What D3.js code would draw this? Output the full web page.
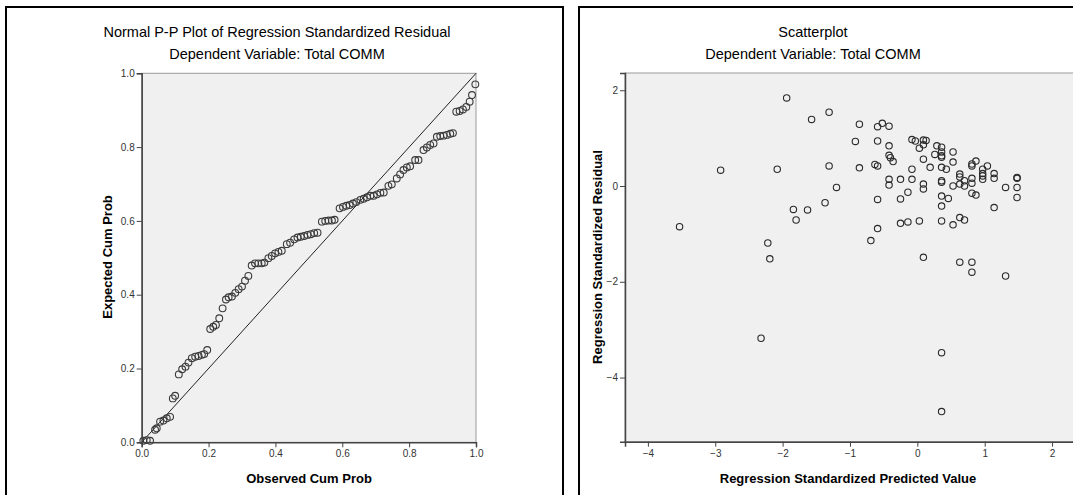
<!DOCTYPE html>
<html><head><meta charset="utf-8">
<script src="https://cdn.jsdelivr.net/npm/d3@7"></script>
<style>body{margin:0;background:#fff}svg{display:block}</style>
</head><body>
<svg id="c" width="1073" height="495"></svg>
<script>
// ---- P-P plot data (observed cum prob, expected cum prob) ----
const ppObserved = [0.005,0.015,0.025,0.04,0.045,0.055,0.065,0.075,0.085,0.093,0.10,0.111,0.121,0.131,0.14,0.15,0.16,0.17,0.18,0.187,0.196,0.205,0.214,0.222,0.232,0.242,0.252,0.26,0.27,0.28,0.29,0.30,0.309,0.319,0.329,0.339,0.349,0.359,0.367,0.379,0.389,0.399,0.409,0.419,0.434,0.444,0.456,0.466,0.476,0.486,0.496,0.506,0.516,0.526,0.539,0.549,0.559,0.569,0.577,0.592,0.602,0.612,0.622,0.632,0.642,0.654,0.664,0.674,0.684,0.694,0.704,0.714,0.724,0.738,0.748,0.763,0.773,0.783,0.793,0.803,0.818,0.828,0.843,0.853,0.863,0.873,0.883,0.893,0.903,0.913,0.923,0.931,0.941,0.951,0.961,0.971,0.981,0.988,0.998];
const ppExpected = [0.004,0.006,0.004,0.034,0.038,0.056,0.059,0.065,0.069,0.119,0.126,0.184,0.198,0.205,0.216,0.228,0.232,0.234,0.237,0.239,0.25,0.307,0.313,0.318,0.336,0.363,0.387,0.393,0.395,0.405,0.415,0.422,0.438,0.451,0.479,0.485,0.485,0.485,0.487,0.499,0.505,0.512,0.516,0.519,0.537,0.541,0.55,0.555,0.557,0.559,0.562,0.564,0.567,0.568,0.598,0.600,0.601,0.601,0.603,0.634,0.638,0.641,0.643,0.647,0.651,0.657,0.660,0.664,0.668,0.668,0.672,0.676,0.677,0.695,0.699,0.715,0.726,0.738,0.745,0.748,0.765,0.765,0.792,0.799,0.806,0.81,0.828,0.83,0.831,0.833,0.836,0.838,0.896,0.898,0.902,0.909,0.923,0.941,0.970];
const ppTicks = [0.0,0.2,0.4,0.6,0.8,1.0];

// ---- Scatterplot data (standardized predicted, standardized residual) ----
const predicted = [-1.94,-1.31,-1.57,-2.92,-2.08,-1.31,-1.20,-3.53,-1.84,-1.63,-1.80,-1.37,-2.22,-2.19,-2.32,
  -0.86,-0.59,-0.52,-0.42,-0.92,-0.59,-0.42,-0.42,-0.40,-0.36,-0.86,-0.63,-0.59,-0.42,-0.42,-0.25,-0.08,-0.08,-0.08,-0.03,
  0.09,0.13,0.03,0.09,0.09,0.09,0.09,0.19,0.29,0.36,0.36,0.36,0.36,0.26,0.36,0.43,0.36,0.36,0.53,0.53,0.53,0.36,0.46,0.36,
  0.63,0.63,0.63,0.70,0.70,0.81,0.81,0.87,0.81,0.81,0.81,0.87,0.97,0.97,0.97,0.97,1.04,1.14,1.14,1.31,1.14,1.48,1.48,1.48,1.48,
  -0.59,-0.25,-0.14,-0.25,-0.14,0.03,0.36,0.53,0.63,0.70,-0.59,-0.69,0.09,0.63,0.81,0.81,1.31,0.36,0.36];
const residual = [1.84,1.54,1.39,0.33,0.35,0.42,-0.03,-0.85,-0.49,-0.50,-0.71,-0.35,-1.19,-1.52,-3.18,
  1.29,1.24,1.31,1.25,0.93,0.94,0.84,0.64,0.59,0.51,0.38,0.45,0.42,0.14,0.02,0.14,0.35,0.14,0.97,0.94,
  0.96,0.95,0.79,0.86,0.56,0.04,-0.06,0.39,0.84,0.81,0.71,0.63,0.60,0.66,0.39,0.35,0.11,0.08,0.71,0.50,0.00,-0.21,-0.26,-0.42,
  0.25,0.19,0.04,0.11,0.00,0.46,0.42,0.52,0.16,0.06,-0.15,-0.19,0.35,0.26,0.21,0.14,0.42,0.26,0.16,-0.03,-0.45,0.18,0.16,-0.03,-0.24,
  -0.28,-0.27,-0.13,-0.78,-0.75,-0.73,-0.73,-0.81,-0.66,-0.71,-0.89,-1.14,-1.49,-1.59,-1.59,-1.80,-1.88,-3.48,-4.71];
const scTicksX = [-4,-3,-2,-1,0,1,2];
const scTicksY = [2,0,-2,-4];

const svg = d3.select("#c");
const FONT = "'Liberation Sans', Arial, sans-serif";

// panel borders
svg.append("rect").attr("x",6).attr("y",7).attr("width",557).attr("height",500)
  .attr("fill","none").attr("stroke","#000").attr("stroke-width",2);
svg.append("rect").attr("x",579).attr("y",7).attr("width",520).attr("height",500)
  .attr("fill","none").attr("stroke","#000").attr("stroke-width",2);

function titles(cx, t1, t2){
  svg.append("text").attr("x",cx).attr("y",37).attr("text-anchor","middle")
    .attr("font-family",FONT).attr("font-size",14.5).attr("fill","#000").text(t1);
  svg.append("text").attr("x",cx).attr("y",59).attr("text-anchor","middle")
    .attr("font-family",FONT).attr("font-size",14.5).attr("fill","#000").text(t2);
}

function frame(x0,x1,y0,y1){
  svg.append("rect").attr("x",x0).attr("y",y1).attr("width",x1-x0).attr("height",y0-y1)
    .attr("fill","#f0f0f0").attr("stroke","#9a9a9a").attr("stroke-width",1);
}

function styleAxis(g){
  g.select(".domain").attr("stroke","#444").attr("stroke-width",1.5);
  g.selectAll(".tick line").attr("stroke","#444");
  g.selectAll(".tick text").attr("font-family",FONT).attr("font-size",10).attr("fill","#333");
}

// ---------- Left: P-P plot ----------
titles(277,"Normal P-P Plot of Regression Standardized Residual","Dependent Variable: Total COMM");
const px = d3.scaleLinear().domain([0,1]).range([141.7,476]);
const py = d3.scaleLinear().domain([0,1]).range([442.3,73.3]);
frame(141.7,476,442.3,73.3);

svg.append("line").attr("x1",px(0)).attr("y1",py(0)).attr("x2",px(1)).attr("y2",py(1))
  .attr("stroke","#222").attr("stroke-width",1);

svg.append("g").selectAll("circle").data(ppObserved.map((o,i)=>[o,ppExpected[i]])).join("circle")
  .attr("cx",d=>px(d[0])).attr("cy",d=>py(d[1])).attr("r",3.4)
  .attr("fill","none").attr("stroke","#3a3a3a").attr("stroke-width",1.1);

const pxAx = svg.append("g").attr("transform","translate(0,442.3)")
  .call(d3.axisBottom(px).tickValues(ppTicks).tickFormat(d3.format(".1f")).tickSizeOuter(0).tickSize(5).tickPadding(3));
styleAxis(pxAx);
const pyAx = svg.append("g").attr("transform","translate(141.7,0)")
  .call(d3.axisLeft(py).tickValues(ppTicks).tickFormat(d3.format(".1f")).tickSizeOuter(0).tickSize(5).tickPadding(2));
styleAxis(pyAx);

svg.append("text").attr("x",309).attr("y",483).attr("text-anchor","middle")
  .attr("font-family",FONT).attr("font-size",13).attr("font-weight","bold").text("Observed Cum Prob");
svg.append("text").attr("transform","translate(112,257) rotate(-90)").attr("text-anchor","middle")
  .attr("font-family",FONT).attr("font-size",13).attr("font-weight","bold").text("Expected Cum Prob");

// ---------- Right: Scatterplot ----------
titles(813,"Scatterplot","Dependent Variable: Total COMM");
const sx = d3.scaleLinear().domain([-4.34,2.40]).range([625,1079]);
const sy = d3.scaleLinear().domain([-5.34,2.36]).range([441.7,73]);
frame(625,1079,441.7,73);

svg.append("g").selectAll("circle").data(predicted.map((p,i)=>[p,residual[i]])).join("circle")
  .attr("cx",d=>sx(d[0])).attr("cy",d=>sy(d[1])).attr("r",3.2)
  .attr("fill","none").attr("stroke","#2a2a2a").attr("stroke-width",1.1);

const sxAx = svg.append("g").attr("transform","translate(0,441.7)")
  .call(d3.axisBottom(sx).tickValues(scTicksX).tickFormat(d3.format("d")).tickSizeOuter(0).tickSize(5).tickPadding(3));
styleAxis(sxAx);
const syAx = svg.append("g").attr("transform","translate(625,0)")
  .call(d3.axisLeft(sy).tickValues(scTicksY).tickFormat(d3.format("d")).tickSizeOuter(0).tickSize(5).tickPadding(2));
styleAxis(syAx);

svg.append("text").attr("x",848).attr("y",483).attr("text-anchor","middle")
  .attr("font-family",FONT).attr("font-size",13).attr("font-weight","bold").text("Regression Standardized Predicted Value");
svg.append("text").attr("transform","translate(602,257) rotate(-90)").attr("text-anchor","middle")
  .attr("font-family",FONT).attr("font-size",13).attr("font-weight","bold").text("Regression Standardized Residual");
</script>
</body></html>
